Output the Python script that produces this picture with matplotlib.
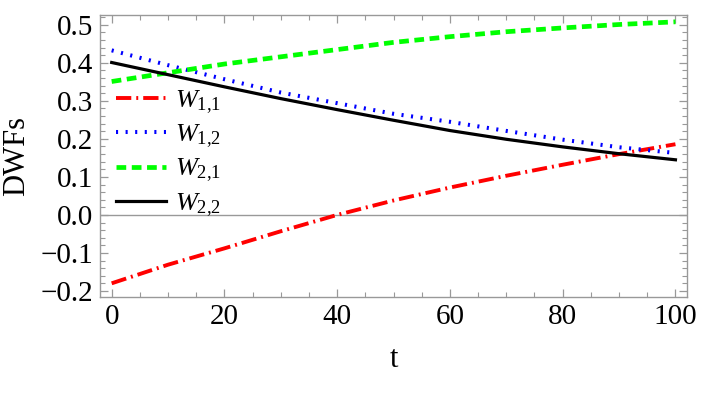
import matplotlib
matplotlib.use("Agg")
import matplotlib.pyplot as plt
from matplotlib.ticker import MultipleLocator

# data
t = [0, 10, 20, 30, 40, 50, 60, 70, 80, 90, 100]
w11 = [-0.180, -0.131, -0.088, -0.043, 0.000, 0.038, 0.072, 0.103, 0.132, 0.160, 0.186]
w12 = [0.433, 0.394, 0.357, 0.322, 0.294, 0.266, 0.245, 0.221, 0.198, 0.178, 0.163]
w21 = [0.351, 0.374, 0.397, 0.416, 0.435, 0.454, 0.469, 0.482, 0.492, 0.501, 0.508]
w22 = [0.401, 0.369, 0.337, 0.306, 0.277, 0.249, 0.222, 0.199, 0.179, 0.161, 0.145]
labels = [r'$W_{1{,}1}$', r'$W_{1{,}2}$', r'$W_{2{,}1}$', r'$W_{2{,}2}$']
xticks = [0, 20, 40, 60, 80, 100]
yticks = [-0.2, -0.1, 0.0, 0.1, 0.2, 0.3, 0.4, 0.5]

plt.rcParams['font.family'] = ['Liberation Serif', 'DejaVu Serif']
plt.rcParams['mathtext.fontset'] = 'custom'
plt.rcParams['mathtext.rm'] = 'Liberation Serif'
plt.rcParams['mathtext.it'] = 'Liberation Serif:italic'
plt.rcParams['lines.scale_dashes'] = False

fig = plt.figure(figsize=(7.02, 4.05), dpi=100)
ax = fig.add_axes([100/702, 1-297/405, 587/702, 282/405])

ax.axhline(0, color='#999999', lw=1.0, zorder=1)
ax.plot(t, w11, color='#FF0000', lw=2.8, linestyle=(0, (11, 3.6, 1.4, 3.6)), label=labels[0])
ax.plot(t, w12, color='#0000FF', lw=2.9, linestyle=(0, (1.5, 5.4)), label=labels[1])
ax.plot(t, w21, color='#00FF00', lw=3.4, linestyle=(0, (7.0, 4.0)), label=labels[2])
ax.plot(t, w22, color='black', lw=2.3, label=labels[3])

ax.set_xlim(-2.07, 102.05)
ax.set_ylim(-0.216, 0.526)
ax.set_xticks(xticks)
ax.set_yticks(yticks)
ax.set_yticklabels([f'{v:.1f}'.replace('-', '\u2212') for v in yticks])
ax.xaxis.set_minor_locator(MultipleLocator(5))
ax.yaxis.set_minor_locator(MultipleLocator(0.02))
ax.tick_params(which='both', direction='in', top=True, right=True, color='#999999',
               labelsize=21, labelcolor='black')
ax.tick_params(which='major', length=6, width=0.9, pad=5)
ax.tick_params(which='minor', length=3.5, width=0.8)
for s in ax.spines.values():
    s.set_color('#999999')
    s.set_linewidth(1.0)

ax.set_xlabel('t', fontsize=22, labelpad=11)
ax.set_ylabel('DWFs', fontsize=22)
ax.yaxis.set_label_coords(-0.118, 0.5)

leg = ax.legend(loc='upper left', bbox_to_anchor=(0.027, 0.74), frameon=False,
                fontsize=19, handlelength=1.9, handletextpad=0.35, labelspacing=0.25,
                borderpad=0, borderaxespad=0)

fig.savefig('out.png', dpi=100)
